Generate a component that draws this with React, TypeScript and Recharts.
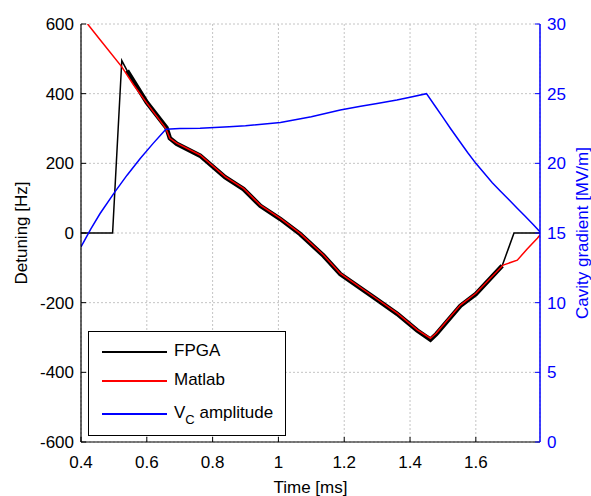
import React from "react";
import {
  LineChart,
  Line,
  XAxis,
  YAxis,
  CartesianGrid,
  Legend,
  Label,
} from "recharts";

const FONT = '"Liberation Sans", Arial, sans-serif';
const BLUE = "#0000ff";
const RED = "#ff0000";

const timeTicks = [0.4, 0.6, 0.8, 1, 1.2, 1.4, 1.6];
const detuningTicks = [-600, -400, -200, 0, 200, 400, 600];
const gradientTicks = [0, 5, 10, 15, 20, 25, 30];

const fpgaTime = [0.4, 0.496, 0.524, 0.54, 0.6, 0.66, 0.67, 0.691, 0.762, 0.838, 0.894, 0.945, 1.006, 1.066, 1.137, 1.188, 1.29, 1.361, 1.422, 1.462, 1.48, 1.553, 1.6, 1.68, 1.7, 1.716, 1.795];
const fpgaDetuning = [0, 0, 495, 466, 375, 302, 272, 256, 222, 160, 126, 78, 40, -3, -65, -118, -185, -232, -280, -306, -290, -209, -175, -94, -42, 0, 0];

const matlabTime = [0.42, 0.458, 0.524, 0.56, 0.6, 0.658, 0.67, 0.691, 0.762, 0.838, 0.894, 0.945, 1.006, 1.066, 1.137, 1.188, 1.29, 1.361, 1.422, 1.462, 1.48, 1.553, 1.6, 1.683, 1.726, 1.756, 1.787, 1.795];
const matlabDetuning = [600, 555, 477, 425, 373, 300, 272, 258, 224, 162, 128, 80, 42, -1, -63, -116, -183, -230, -278, -302, -287, -207, -173, -92, -78, -46, -15, -6];

const vcTime = [0.4, 0.43, 0.458, 0.503, 0.54, 0.58, 0.62, 0.658, 0.7, 0.762, 0.85, 0.9, 1.006, 1.1, 1.188, 1.25, 1.3, 1.36, 1.4, 1.45, 1.475, 1.5, 1.523, 1.55, 1.575, 1.6, 1.625, 1.65, 1.675, 1.7, 1.725, 1.75, 1.775, 1.798];
const vcAmplitude = [14.0, 15.3, 16.4, 17.95, 19.15, 20.35, 21.45, 22.45, 22.5, 22.52, 22.62, 22.7, 22.93, 23.35, 23.83, 24.1, 24.3, 24.55, 24.75, 25.0, 24.15, 23.3, 22.5, 21.6, 20.78, 20.0, 19.3, 18.6, 18.0, 17.4, 16.8, 16.2, 15.6, 15.0];

const fpgaData = fpgaTime.map((t, i) => ({ t, v: fpgaDetuning[i] }));
const fpgaNoisy = fpgaData.slice(3, 24);
const matlabData = matlabTime.map((t, i) => ({ t, v: matlabDetuning[i] }));
const vcData = vcTime.map((t, i) => ({ t, v: vcAmplitude[i] }));

const BottomTick = (props: any) => {
  const { x, y, payload } = props;
  return (
    <g>
      <line x1={x} x2={x} y1={y} y2={y - 5} stroke="#000" strokeWidth={1} />
      <text x={x} y={y + 26} textAnchor="middle" fill="#000" fontSize={17} fontFamily={FONT}>
        {payload.value}
      </text>
    </g>
  );
};

const TopTick = (props: any) => {
  const { x, y } = props;
  return <line x1={x} x2={x} y1={y} y2={y + 5} stroke="#000" strokeWidth={1} />;
};

const LeftTick = (props: any) => {
  const { x, y, payload } = props;
  return (
    <g>
      <line x1={x} x2={x + 5} y1={y} y2={y} stroke="#000" strokeWidth={1} />
      <text x={x - 7} y={y + 6} textAnchor="end" fill="#000" fontSize={17} fontFamily={FONT}>
        {payload.value}
      </text>
    </g>
  );
};

const RightTick = (props: any) => {
  const { x, y, payload } = props;
  return (
    <g>
      <line x1={x} x2={x - 5} y1={y} y2={y} stroke={BLUE} strokeWidth={1} />
      <text x={x + 7} y={y + 6} textAnchor="start" fill={BLUE} fontSize={17} fontFamily={FONT}>
        {payload.value}
      </text>
    </g>
  );
};

const legendRows = [
  { key: "fpga", color: "#000", top: 20 },
  { key: "matlab", color: RED, top: 49 },
  { key: "vc", color: BLUE, top: 82 },
];

const renderLegend = () => (
  <div
    style={{
      position: "relative",
      width: 198,
      height: 105,
      border: "1.5px solid #000",
      boxSizing: "border-box",
      background: "#fff",
      fontFamily: FONT,
      fontSize: 17,
      color: "#000",
    }}
  >
    {legendRows.map((r) => (
      <div key={r.key}>
        <div
          style={{
            position: "absolute",
            left: 13,
            top: r.top - 1,
            width: 65,
            height: 1.5,
            background: r.color,
          }}
        />
        <div style={{ position: "absolute", left: 85, top: r.top - 11, lineHeight: "20px", whiteSpace: "nowrap" }}>
          {r.key === "fpga" && "FPGA"}
          {r.key === "matlab" && "Matlab"}
          {r.key === "vc" && (
            <span>
              V<sub style={{ fontSize: 13, verticalAlign: -6 }}>C</sub> amplitude
            </span>
          )}
        </div>
      </div>
    ))}
  </div>
);

export default function App() {
  return (
    <div style={{ position: "absolute", left: 0, top: 0, background: "#fff" }}>
      <LineChart
        width={591}
        height={496}
        margin={{ top: 24, right: 0, bottom: 0, left: 0 }}
        style={{ fontFamily: FONT }}
      >
        <CartesianGrid
          xAxisId="bottom"
          yAxisId="left"
          stroke="#c4c4c4"
          strokeDasharray="2 2"
        />
        <XAxis
          xAxisId="bottom"
          dataKey="t"
          type="number"
          domain={[0.4, 1.795]}
          ticks={timeTicks}
          allowDataOverflow
          height={54}
          tickSize={0}
          tickMargin={0}
          tick={<BottomTick />}
          axisLine={{ stroke: "#000", strokeWidth: 1.2 }}
        >
          <Label
            content={({ viewBox }: any) => (
              <text
                x={viewBox.x + viewBox.width / 2 - 0}
                y={viewBox.y + 51}
                textAnchor="middle"
                fill="#000"
                fontSize={17}
                fontFamily={FONT}
              >
                Time [ms]
              </text>
            )}
          />
        </XAxis>
        <XAxis
          xAxisId="top"
          orientation="top"
          dataKey="t"
          type="number"
          domain={[0.4, 1.795]}
          ticks={timeTicks}
          allowDataOverflow
          height={0}
          tickSize={0}
          tickMargin={0}
          tick={<TopTick />}
          axisLine={{ stroke: "#000", strokeWidth: 1.2 }}
        />
        <YAxis
          yAxisId="left"
          type="number"
          domain={[-600, 600]}
          ticks={detuningTicks}
          allowDataOverflow
          width={81}
          tickSize={0}
          tickMargin={0}
          tick={<LeftTick />}
          axisLine={{ stroke: "#000", strokeWidth: 1.2 }}
        >
          <Label
            content={({ viewBox }: any) => (
              <text
                x={21}
                y={viewBox.y + viewBox.height / 2}
                transform={`rotate(-90 21 ${viewBox.y + viewBox.height / 2})`}
                textAnchor="middle"
                dominantBaseline="central"
                fill="#000"
                fontSize={17}
                fontFamily={FONT}
              >
                Detuning [Hz]
              </text>
            )}
          />
        </YAxis>
        <YAxis
          yAxisId="right"
          orientation="right"
          type="number"
          domain={[0, 30]}
          ticks={gradientTicks}
          allowDataOverflow
          width={51}
          tickSize={0}
          tickMargin={0}
          tick={<RightTick />}
          axisLine={{ stroke: BLUE, strokeWidth: 1.5 }}
        >
          <Label
            content={({ viewBox }: any) => (
              <text
                x={582}
                y={viewBox.y + viewBox.height / 2}
                transform={`rotate(-90 582 ${viewBox.y + viewBox.height / 2})`}
                textAnchor="middle"
                dominantBaseline="central"
                fill={BLUE}
                fontSize={17}
                fontFamily={FONT}
              >
                Cavity gradient [MV/m]
              </text>
            )}
          />
        </YAxis>
        <Line
          xAxisId="bottom"
          yAxisId="left"
          data={fpgaNoisy}
          dataKey="v"
          type="linear"
          stroke="#000"
          strokeWidth={4.5}
          dot={false}
          legendType="none"
          isAnimationActive={false}
        />
        <Line
          xAxisId="bottom"
          yAxisId="left"
          data={fpgaData}
          dataKey="v"
          name="FPGA"
          type="linear"
          stroke="#000"
          strokeWidth={1.5}
          dot={false}
          isAnimationActive={false}
        />
        <Line
          xAxisId="bottom"
          yAxisId="left"
          data={matlabData}
          dataKey="v"
          name="Matlab"
          type="linear"
          stroke={RED}
          strokeWidth={1.5}
          dot={false}
          isAnimationActive={false}
        />
        <Line
          xAxisId="bottom"
          yAxisId="right"
          data={vcData}
          dataKey="v"
          name="VC amplitude"
          type="linear"
          stroke={BLUE}
          strokeWidth={1.5}
          dot={false}
          isAnimationActive={false}
        />
        <Legend
          layout="vertical"
          align="center"
          verticalAlign="middle"
          content={renderLegend}
          wrapperStyle={{ left: 88, top: 331, width: 198, height: 105 }}
        />
      </LineChart>
    </div>
  );
}
